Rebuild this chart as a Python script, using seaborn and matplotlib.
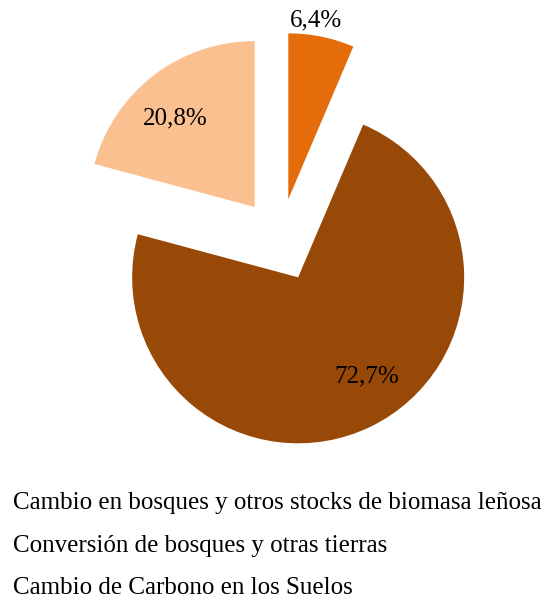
import matplotlib
matplotlib.use("Agg")
import matplotlib.pyplot as plt
import seaborn as sns
import numpy as np

# Shares of emissions by category (%)
categorias = [
    "Cambio en bosques y otros stocks de biomasa leñosa",
    "Conversión de bosques y otras tierras",
    "Cambio de Carbono en los Suelos",
]
valores = [6.4, 72.7, 20.8]
colores = ["#E46C0A", "#984807", "#FAC090"]

sns.set_theme(style="white")
plt.rcParams["font.family"] = ["Liberation Serif", "DejaVu Serif"]

fig = plt.figure(figsize=(5.46, 5.99), dpi=100)
# axes box in pixels: centre (280, 240), unit radius = 166 px
W, H = 546, 599
cx, cy, r = 280, 240, 166
half = 1.5 * r
ax = fig.add_axes([(cx - half) / W, (H - (cy + half)) / H, 2 * half / W, 2 * half / H])

total = sum(valores)
palette = sns.color_palette(colores)
wedges, texts, autotexts = ax.pie(
    valores,
    colors=palette,
    startangle=90,
    counterclock=False,
    explode=[0.25, 0.25, 0.25],
    radius=1.0,
    pctdistance=0.72,
    autopct=lambda p: f"{p * total / 100:.1f}%".replace(".", ","),
    textprops=dict(fontsize=18, color="black"),
    wedgeprops=dict(linewidth=0),
)

# The small slice gets its label just outside the wedge
w = wedges[0]
mid = np.deg2rad((w.theta1 + w.theta2) / 2)
cxw, cyw = w.center
autotexts[0].set_position((cxw + 1.1 * np.cos(mid) - 0.05, cyw + 1.1 * np.sin(mid)))
# nudge the other two labels slightly
x, y = autotexts[1].get_position()
autotexts[1].set_position((x + 0.1, y + 0.05))
x, y = autotexts[2].get_position()
autotexts[2].set_position((x - 0.04, y - 0.04))

ax.set_xlim(-1.5, 1.5)
ax.set_ylim(-1.5, 1.5)
ax.axis("off")

leg = fig.legend(
    wedges, categorias,
    loc="upper left",
    bbox_to_anchor=(13 / W, 1 - 492 / H),
    frameon=False,
    handlelength=0, handletextpad=0,
    labelspacing=0.8,
    borderaxespad=0, borderpad=0,
    fontsize=18,
    labelcolor="black",
)
for h in leg.legend_handles:
    h.set_visible(False)

fig.savefig("out.png", dpi=100)
